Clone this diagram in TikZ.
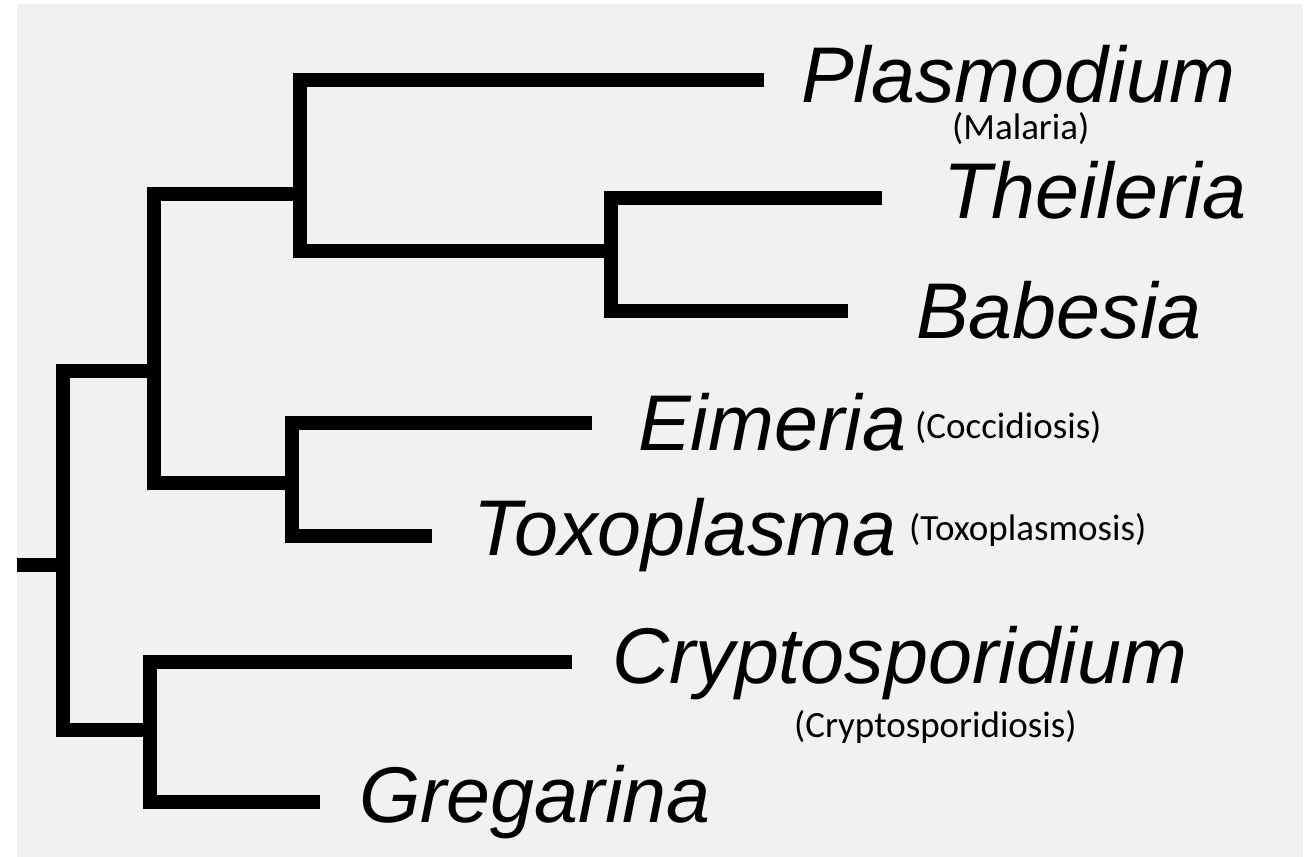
\documentclass[tikz,border=0pt]{standalone}
\usepackage{graphicx}
\usepackage{fontspec}
\setmainfont{Liberation Sans}
\newfontfamily\notefont{Carlito}
\definecolor{bgray}{HTML}{F1F1F1}
\begin{document}
\begin{tikzpicture}[x=1pt,y=-1pt,
  branch/.style={line width=13.5pt, line join=miter, line cap=butt, black},
  taxon/.style={anchor=base west, inner sep=0pt, font=\fontsize{79}{79}\selectfont\itshape},
  note/.style={anchor=base west, inner sep=0pt, font=\fontsize{37}{37}\selectfont\notefont}]
\useasboundingbox (0,0) rectangle (1307,857);
\fill[white] (0,0) rectangle (1307,857);
\fill[bgray] (17,4) rectangle (1303,857);

% tips
\coordinate (tPlas) at (764,80);
\coordinate (tThei) at (882,198);
\coordinate (tBab)  at (848,311);
\coordinate (tEim)  at (592,423);
\coordinate (tTox)  at (432,536);
\coordinate (tCry)  at (572,662);
\coordinate (tGre)  at (320,802);
% internal joints
\coordinate (jB) at (300,194);
\coordinate (jC) at (611,251);
\coordinate (jA) at (154,371);
\coordinate (jD) at (292,483);
\coordinate (jE) at (150,730);
\coordinate (root) at (63,565);
\coordinate (stub) at (17,565);

\draw[branch] (tPlas) -| (jB) |- (jC);
\draw[branch] (tThei) -| (jC) |- (tBab);
\draw[branch] (jB) -| (jA) |- (jD);
\draw[branch] (tEim) -| (jD) |- (tTox);
\draw[branch] (jA) -| (root) |- (jE);
\draw[branch] (tCry) -| (jE) |- (tGre);
\draw[branch] (stub) -- (root);

% labels
\node[taxon, text depth=0pt] (plas) at (801,102) {Plasmodium};
\node[taxon] (thei) at (943,218) {Theileria};
\node[taxon] (bab)  at (916,338) {Babesia};
\node[taxon] (eim)  at (638,450) {Eimeria};
\node[taxon] (tox)  at (473,555) {Toxoplasma};
\node[taxon] (cry)  at (612,683) {Cryptosporidium};
\node[taxon] (gre)  at (359,822) {Gregarina};

\node[note] (mal) at (952,139) {(Malaria)};
\node[note] (coc) at (915,438) {(Coccidiosis)};
\node[note] (txs) at (909,540) {(Toxoplasmosis)};
\node[note] (crs) at (794,737) {(Cryptosporidiosis)};
\end{tikzpicture}
\end{document}
